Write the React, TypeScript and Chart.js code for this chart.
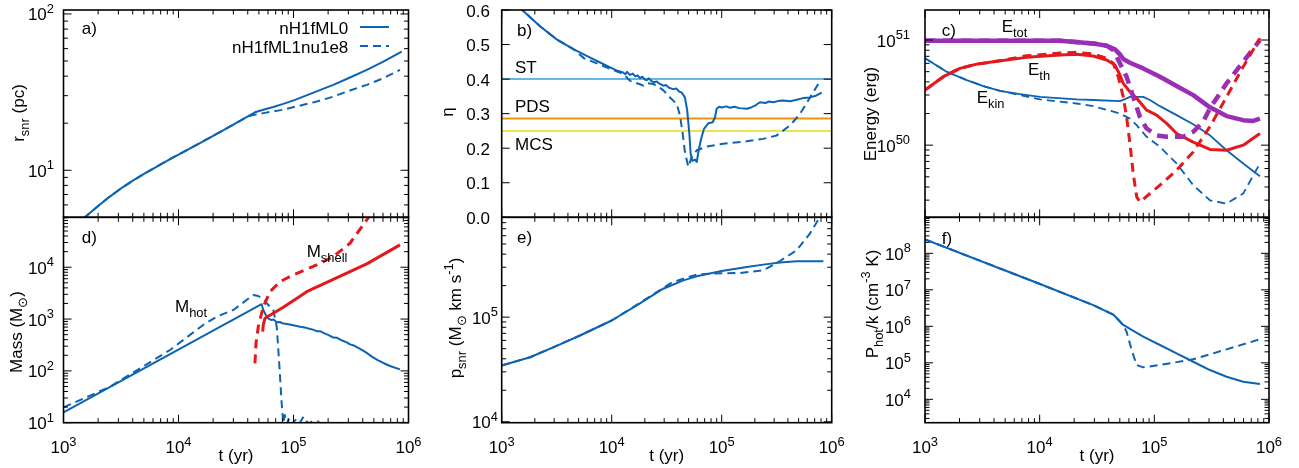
import { useEffect, useRef } from 'react';
import { Chart, registerables } from 'chart.js';

Chart.register(...registerables);

// ---------------- data ----------------
const timeMajor = [1e3, 1e4, 1e5, 1e6];
const minorMultipliers = [2, 3, 4, 5, 6, 7, 8, 9];
const runNames = ['nH1fML0', 'nH1fML1nu1e8'];

// (a) shell radius
const aTimeML0 = [1500, 1570, 2000, 2510, 3160, 3980, 5010, 6310, 7940, 10000, 15800, 25100, 39800, 46200, 54600, 66700, 81500, 103000, 149000, 222000, 310000, 434000, 604000, 873000];
const aRadiusML0 = [4.89, 5.07, 5.9, 6.76, 7.65, 8.55, 9.48, 10.45, 11.5, 12.6, 15.1, 18.2, 22.0, 23.5, 24.4, 25.4, 26.6, 28.2, 31.4, 35.2, 39.2, 43.9, 49.5, 57.4];
const aTimeNu = [1500, 1570, 2000, 2510, 3160, 3980, 5010, 6310, 7940, 10000, 15800, 25100, 39800, 44700, 54600, 81500, 106000, 159000, 222000, 310000, 434000, 604000, 843000];
const aRadiusNu = [4.89, 5.07, 5.9, 6.76, 7.65, 8.55, 9.48, 10.45, 11.5, 12.6, 15.1, 18.2, 22.0, 22.6, 23.2, 24.4, 25.6, 27.5, 29.6, 32.4, 35.2, 38.8, 43.9];

// (b) eta
const bTimeML0 = [1400, 1570, 2230, 3160, 4480, 5930, 7830, 10000, 11300, 12700, 13300, 13800, 14700, 15500, 16400, 17200, 18100, 19000, 19900, 20800, 21800, 23000, 24300, 25700, 27400, 29400, 31000, 33500, 36300, 38600, 41000, 43300, 46300, 48600, 50800, 52200, 54100, 57200, 59300, 61400, 64400, 69000, 75500, 82800, 86900, 90000, 95000, 100000, 110000, 119000, 130000, 145000, 169000, 185000, 201000, 215000, 223000, 250000, 270000, 294000, 330000, 363000, 420000, 481000, 550000, 635000, 720000, 811000];
const bEtaML0 = [0.611, 0.597, 0.553, 0.515, 0.487, 0.467, 0.448, 0.432, 0.424, 0.419, 0.414, 0.421, 0.412, 0.416, 0.408, 0.411, 0.403, 0.407, 0.399, 0.397, 0.402, 0.394, 0.391, 0.393, 0.386, 0.381, 0.383, 0.374, 0.371, 0.373, 0.364, 0.361, 0.347, 0.309, 0.242, 0.184, 0.163, 0.167, 0.160, 0.189, 0.222, 0.256, 0.272, 0.275, 0.289, 0.314, 0.320, 0.318, 0.321, 0.317, 0.320, 0.316, 0.314, 0.318, 0.323, 0.330, 0.333, 0.331, 0.335, 0.333, 0.337, 0.338, 0.336, 0.340, 0.345, 0.347, 0.352, 0.361];
const bTimeNu = [1400, 1570, 2230, 3160, 4480, 5620, 7830, 10000, 12700, 14700, 18100, 19400, 21000, 23900, 26500, 29400, 33900, 39000, 41800, 44200, 46300, 49700, 53300, 59300, 73100, 103500, 168700, 238800, 316200, 417800, 515200, 635300, 755100];
const bEtaNu = [0.611, 0.597, 0.553, 0.515, 0.487, 0.460, 0.442, 0.428, 0.415, 0.395, 0.385, 0.381, 0.388, 0.386, 0.378, 0.368, 0.347, 0.328, 0.294, 0.242, 0.189, 0.146, 0.174, 0.194, 0.205, 0.213, 0.220, 0.227, 0.237, 0.266, 0.299, 0.347, 0.386];
const regimeSpan = [1e3, 1e6];
const regimeNames = ['ST', 'PDS', 'MCS'];
const regimeEta = [0.4, 0.2857, 0.25];

// (c) energies
const cTimeTotML0 = [1000, 15030, 29310, 38370, 45390, 50120, 53580, 61240, 79980, 111900, 156300, 218300, 305500, 426600, 595700, 727800, 833700];
const cEtotML0 = [9.84e50, 9.84e50, 9.29e50, 8.83e50, 8.15e50, 7.31e50, 6.59e50, 6.08e50, 5.37e50, 4.48e50, 3.65e50, 2.99e50, 2.29e50, 1.89e50, 1.73e50, 1.70e50, 1.79e50];
const cTimeTotNu = [1000, 15030, 29310, 38370, 43850, 50120, 57280, 65460, 74820, 85700, 104700, 127900, 178600, 218300, 266700, 305500, 426600, 595700, 833700];
const cEtotNu = [9.84e50, 9.84e50, 9.29e50, 8.83e50, 8.04e50, 6.0e50, 4.48e50, 2.88e50, 1.86e50, 1.44e50, 1.24e50, 1.2e50, 1.2e50, 1.34e50, 1.67e50, 2.24e50, 3.87e50, 6.21e50, 1.0e51];
const cTimeThML0 = [1000, 1445, 2018, 2825, 3945, 7709, 15030, 21040, 29310, 38370, 45390, 50120, 53580, 61240, 70150, 85700, 104700, 127900, 156300, 218300, 305500, 426600, 595700, 833700];
const cEthML0 = [3.34e50, 4.48e50, 5.37e50, 5.9e50, 6.21e50, 6.84e50, 7.19e50, 7.31e50, 7.05e50, 6.46e50, 5.78e50, 4.65e50, 3.87e50, 3.22e50, 2.79e50, 2.15e50, 1.93e50, 1.61e50, 1.29e50, 1.07e50, 9.1e49, 8.95e49, 1.0e50, 1.29e50];
const cTimeThNu = [1000, 1445, 2018, 2825, 3945, 7709, 15030, 21040, 29310, 38370, 43850, 48420, 53580, 57280, 61240, 65460, 70150, 74820, 91620, 111900, 156300, 218300, 266700, 305500, 426600, 595700, 833700];
const cEthNu = [3.34e50, 4.48e50, 5.37e50, 5.9e50, 6.21e50, 7.08e50, 7.52e50, 7.64e50, 7.36e50, 6.7e50, 6.0e50, 4.48e50, 2.88e50, 1.86e50, 1.04e50, 5.37e49, 3.22e49, 2.88e49, 3.47e49, 4.16e49, 5.78e49, 8.63e49, 1.2e50, 1.5e50, 2.88e50, 5.57e50, 1.04e51];
const cTimeKinML0 = [1000, 1545, 2312, 3221, 4508, 6730, 10070, 21040, 29310, 50120, 55460, 61240, 79980, 91620, 111900, 156300, 218300, 305500, 426600, 595700, 833700];
const cEkinML0 = [6.7e50, 4.99e50, 4.16e50, 3.65e50, 3.29e50, 3.06e50, 2.88e50, 2.72e50, 2.69e50, 2.62e50, 2.74e50, 2.88e50, 2.88e50, 2.69e50, 2.35e50, 1.93e50, 1.58e50, 1.24e50, 8.95e49, 6.7e49, 5.07e49];
const cTimeKinNu = [1000, 1545, 2312, 3221, 4508, 6730, 10070, 21040, 29310, 50120, 61240, 70150, 85700, 111900, 156300, 218300, 305500, 426600, 595700, 833700];
const cEkinNu = [6.7e50, 4.99e50, 4.16e50, 3.65e50, 3.29e50, 2.99e50, 2.72e50, 2.49e50, 2.35e50, 2.0e50, 1.79e50, 1.55e50, 1.2e50, 9.64e49, 6.7e49, 4.16e49, 2.99e49, 2.78e49, 3.47e49, 6.7e49];

// (d) masses
const dTimeHotML0 = [1000, 52800, 54600, 58500, 61000, 64600, 67000, 71500, 76000, 80000, 87300, 95000, 104000, 114000, 125000, 137000, 148000, 159000, 172000, 186000, 200000, 222000, 240000, 265000, 290000, 310000, 340000, 375000, 400000, 433000, 480000, 540000, 604000, 700000, 843000];
const dMassHotML0 = [15.9, 1932, 1500, 1112, 1010, 961, 985, 870, 880, 830, 803, 775, 745, 713, 690, 650, 625, 585, 580, 530, 495, 440, 435, 385, 355, 325, 305, 270, 248, 222, 188, 162, 142, 123, 107];
const dTimeHotNu = [1000, 2540, 8430, 16400, 21500, 30000, 44700, 49400, 54600, 60400, 66700, 71500, 73800, 76400, 78900, 81500, 84000, 87000, 92000, 97000, 104000, 112000, 122000, 135000, 150000, 165000, 171000];
const dMassHotNu = [19.8, 49.5, 253, 769, 1112, 1500, 2917, 2790, 2410, 1871, 1500, 713, 253, 77.3, 23.7, 9.8, 14.1, 9.3, 12.2, 9.5, 11.3, 9.4, 13.0, 9.6, 11.0, 10.4, 8.0];
const dTimeShellML0 = [54000, 54600, 56500, 66700, 81500, 99500, 130300, 221800, 433500, 843300];
const dMassShellML0 = [571, 769, 1035, 1294, 1690, 2265, 3381, 5861, 11590, 26980];
const dTimeShellNu = [46200, 47200, 49400, 54600, 62500, 76400, 99500, 159200, 221800, 309700, 433500, 494300];
const dMassShellNu = [140, 341, 713, 1734, 3381, 5272, 7096, 11070, 16030, 29040, 81850, 127600];

// (e) momentum
const eTimeML0 = [1000, 1810, 2940, 5150, 10000, 16900, 29400, 44800, 59300, 100000, 169000, 239000, 339000, 481000, 840000];
const eMomML0 = [34500, 41400, 51500, 66800, 92900, 129400, 187000, 224800, 245400, 276100, 301500, 317700, 332400, 342200, 342200];
const eTimeNu = [1000, 1810, 2940, 5150, 10000, 16900, 29400, 35500, 44800, 59300, 79400, 147000, 239000, 339000, 481000, 635000, 783000, 832000];
const eMomNu = [34500, 41400, 51500, 66800, 92900, 131000, 190000, 215000, 233000, 255000, 261000, 264000, 280000, 344000, 436000, 631000, 910000, 1000000];

// (f) hot pressure
const fTimeML0 = [1000, 10070, 29310, 43850, 53580, 79980, 111900, 156300, 218300, 305500, 426600, 595700, 833700];
const fPresML0 = [2.42e8, 1.44e7, 3.82e6, 2.1e6, 1.09e6, 5.19e5, 3.08e5, 1.82e5, 1.07e5, 6.35e4, 4.16e4, 3.03e4, 2.62e4];
const fTimeNu = [1000, 10070, 29310, 43850, 53580, 57280, 63400, 70150, 79980, 111900, 218300, 426600, 833700];
const fPresNu = [2.42e8, 1.44e7, 3.82e6, 2.1e6, 1.09e6, 7.11e5, 2.24e5, 8.71e4, 7.53e4, 8.71e4, 1.25e5, 2.34e5, 4.41e5];

// ---------------- styling ----------------
const W = 1299;
const H = 468;
const FONT = '"Liberation Sans", Arial, Helvetica, sans-serif';
const FS = 17;
const BLUE = '#0d63b2';
const RED = '#e3191e';
const PURPLE = '#9a2fb6';
const C_ST = '#66b6e8';
const C_PDS = '#e8960c';
const C_MCS = '#f0e24a';
const DASH_B = [8, 5];
const DASH_R = [9, 6];
const DASH_P = [11, 7];
const MAJ = 8;
const MIN = 4.5;

type Seg = { t: string; k?: 'sub' | 'sup' };
const N = (t: string): Seg => ({ t });
const SUB = (t: string): Seg => ({ t, k: 'sub' });
const SUP = (t: string): Seg => ({ t, k: 'sup' });

function segSize(s: Seg, size: number) {
  return s.k ? size * 0.76 : size;
}
function richWidth(ctx: CanvasRenderingContext2D, segs: Seg[], size: number) {
  let w = 0;
  for (const s of segs) {
    ctx.font = `${segSize(s, size)}px ${FONT}`;
    w += ctx.measureText(s.t).width;
  }
  return w;
}
function drawRich(ctx: CanvasRenderingContext2D, segs: Seg[], x: number, y: number, size: number, align: 'left' | 'right' | 'center', rotate = false) {
  ctx.save();
  ctx.translate(x, y);
  if (rotate) ctx.rotate(-Math.PI / 2);
  const w = richWidth(ctx, segs, size);
  let cx = align === 'center' ? -w / 2 : align === 'right' ? -w : 0;
  ctx.textAlign = 'left';
  ctx.textBaseline = 'alphabetic';
  for (const s of segs) {
    const sz = segSize(s, size);
    const dy = s.k === 'sub' ? size * 0.3 : s.k === 'sup' ? -size * 0.45 : 0;
    ctx.font = `${sz}px ${FONT}`;
    ctx.fillText(s.t, cx, dy);
    cx += ctx.measureText(s.t).width;
  }
  ctx.restore();
}
const powLabel = (v: number): Seg[] => [N('10'), SUP(String(Math.round(Math.log10(v))))];
const fixedLabel = (v: number): Seg[] => [N(v.toFixed(1))];
const minorFor = (decades: number[]) => decades.flatMap((d) => minorMultipliers.map((m) => d * m));

const pts = (xs: number[], ys: number[]) => xs.map((x, i) => ({ x, y: ys[i] }));
const line = (xs: number[], ys: number[], color: string, width: number, dash: number[] = []) => ({
  data: pts(xs, ys),
  borderColor: color,
  borderWidth: width,
  borderDash: dash,
  pointRadius: 0,
  fill: false,
  tension: 0,
  borderJoinStyle: 'round',
});

interface Panel {
  box: [number, number, number, number];
  yType: 'logarithmic' | 'linear';
  yMin: number;
  yMax: number;
  yMajor: number[];
  yMinor: number[];
  yFmt: (v: number) => Seg[];
  yLabelRight: number;
  yTitle: Seg[];
  yTitleAt: [number, number];
  xLabels: boolean;
  texts: { segs: Seg[]; x: number; y: number }[];
  legend?: boolean;
  datasets: any[];
}

const panels: Panel[] = [
  {
    box: [63.5, 10, 408.5, 217.3], yType: 'logarithmic', yMin: 5, yMax: 106,
    yMajor: [10, 100], yMinor: minorFor([1, 10]), yFmt: powLabel, yLabelRight: 54,
    yTitle: [N('r'), SUB('snr'), N(' (pc)')], yTitleAt: [17.5, 113], xLabels: false,
    texts: [{ segs: [N('a)')], x: 81.7, y: 34.4 }], legend: true,
    datasets: [
      line(aTimeML0, aRadiusML0, BLUE, 2),
      line(aTimeNu, aRadiusNu, BLUE, 2, DASH_B),
    ],
  },
  {
    box: [501.7, 10, 831.7, 217.3], yType: 'linear', yMin: 0, yMax: 0.6,
    yMajor: [0, 0.1, 0.2, 0.3, 0.4, 0.5, 0.6], yMinor: [], yFmt: fixedLabel, yLabelRight: 490,
    yTitle: [N('η')], yTitleAt: [447, 112], xLabels: false,
    texts: [
      { segs: [N('b)')], x: 517, y: 36 },
      { segs: [N(regimeNames[0])], x: 515, y: 73.3 },
      { segs: [N(regimeNames[1])], x: 515, y: 111.7 },
      { segs: [N(regimeNames[2])], x: 515, y: 150 },
    ],
    datasets: [
      line(bTimeML0, bEtaML0, BLUE, 2),
      line(bTimeNu, bEtaNu, BLUE, 2, DASH_B),
      line(regimeSpan, regimeSpan.map(() => regimeEta[0]), C_ST, 2),
      line(regimeSpan, regimeSpan.map(() => regimeEta[1]), C_PDS, 2),
      line(regimeSpan, regimeSpan.map(() => regimeEta[2]), C_MCS, 2),
    ],
  },
  {
    box: [925, 10, 1269, 217.3], yType: 'logarithmic', yMin: 2.06e49, yMax: 1.93e51,
    yMajor: [1e50, 1e51], yMinor: minorFor([1e49, 1e50, 1e51]), yFmt: powLabel, yLabelRight: 910,
    yTitle: [N('Energy (erg)')], yTitleAt: [870, 114], xLabels: false,
    texts: [
      { segs: [N('c)')], x: 941.7, y: 36 },
      { segs: [N('E'), SUB('tot')], x: 1001.7, y: 31.7 },
      { segs: [N('E'), SUB('th')], x: 1028, y: 75 },
      { segs: [N('E'), SUB('kin')], x: 976.7, y: 103.3 },
    ],
    datasets: [
      line(cTimeThNu, cEthNu, RED, 3, DASH_R),
      line(cTimeTotNu, cEtotNu, PURPLE, 4.5, DASH_P),
      line(cTimeTotML0, cEtotML0, PURPLE, 4.5),
      line(cTimeThML0, cEthML0, RED, 3),
      line(cTimeKinML0, cEkinML0, BLUE, 1.8),
      line(cTimeKinNu, cEkinNu, BLUE, 1.8, DASH_B),
    ],
  },
  {
    box: [63.5, 217.3, 408.5, 422.7], yType: 'logarithmic', yMin: 10, yMax: 9.2e4,
    yMajor: [10, 100, 1e3, 1e4], yMinor: minorFor([10, 100, 1e3, 1e4]), yFmt: powLabel, yLabelRight: 54,
    yTitle: [N('Mass (M'), SUB('⊙'), N(')')], yTitleAt: [16, 332], xLabels: true,
    texts: [
      { segs: [N('d)')], x: 81.7, y: 242.7 },
      { segs: [N('M'), SUB('hot')], x: 175, y: 311.7 },
      { segs: [N('M'), SUB('shell')], x: 306.7, y: 256.7 },
    ],
    datasets: [
      line(dTimeShellML0, dMassShellML0, RED, 3),
      line(dTimeShellNu, dMassShellNu, RED, 3, DASH_R),
      line(dTimeHotML0, dMassHotML0, BLUE, 2),
      line(dTimeHotNu, dMassHotNu, BLUE, 2, DASH_B),
    ],
  },
  {
    box: [501.7, 217.3, 831.7, 422.7], yType: 'logarithmic', yMin: 9.8e3, yMax: 9e5,
    yMajor: [1e4, 1e5], yMinor: minorFor([1e4, 1e5]), yFmt: powLabel, yLabelRight: 498,
    yTitle: [N('p'), SUB('snr'), N(' (M'), SUB('⊙'), N(' km s'), SUP('-1'), N(')')], yTitleAt: [455, 318], xLabels: true,
    texts: [{ segs: [N('e)')], x: 517, y: 242.7 }],
    datasets: [
      line(eTimeML0, eMomML0, BLUE, 2),
      line(eTimeNu, eMomNu, BLUE, 2, DASH_B),
    ],
  },
  {
    box: [925, 217.3, 1269, 422.7], yType: 'logarithmic', yMin: 2.29e3, yMax: 9.7e8,
    yMajor: [1e4, 1e5, 1e6, 1e7, 1e8], yMinor: minorFor([1e3, 1e4, 1e5, 1e6, 1e7, 1e8]), yFmt: powLabel, yLabelRight: 911,
    yTitle: [N('P'), SUB('hot'), N('/k (cm'), SUP('-3'), N(' K)')], yTitleAt: [872, 304], xLabels: true,
    texts: [{ segs: [N('f)')], x: 941.7, y: 244 }],
    datasets: [
      line(fTimeML0, fPresML0, BLUE, 2),
      line(fTimeNu, fPresNu, BLUE, 2, DASH_B),
    ],
  },
];

function makeDecor(p: Panel) {
  return {
    id: 'decor',
    afterDraw(chart: any) {
      const ctx = chart.ctx as CanvasRenderingContext2D;
      const a = chart.chartArea;
      const xs = chart.scales.x;
      const ys = chart.scales.y;
      ctx.save();
      ctx.strokeStyle = '#000';
      ctx.lineWidth = 1;
      ctx.beginPath();
      const vTick = (v: number, len: number) => {
        const px = xs.getPixelForValue(v);
        ctx.moveTo(px, a.bottom);
        ctx.lineTo(px, a.bottom - len);
        ctx.moveTo(px, a.top);
        ctx.lineTo(px, a.top + len);
      };
      const hTick = (v: number, len: number) => {
        if (v < p.yMin * 0.999 || v > p.yMax * 1.001) return;
        const py = ys.getPixelForValue(v);
        ctx.moveTo(a.left, py);
        ctx.lineTo(a.left + len, py);
        ctx.moveTo(a.right, py);
        ctx.lineTo(a.right - len, py);
      };
      timeMajor.forEach((v) => vTick(v, MAJ));
      minorFor([1e3, 1e4, 1e5]).forEach((v) => vTick(v, MIN));
      p.yMajor.forEach((v) => hTick(v, MAJ));
      p.yMinor.forEach((v) => hTick(v, MIN));
      ctx.stroke();
      ctx.lineWidth = 1.6;
      ctx.strokeRect(a.left, a.top, a.right - a.left, a.bottom - a.top);

      ctx.fillStyle = '#000';
      p.yMajor.forEach((v) => {
        if (v < p.yMin * 0.999 || v > p.yMax * 1.001) return;
        const py = ys.getPixelForValue(v);
        drawRich(ctx, p.yFmt(v), p.yLabelRight, py + 6.5, FS, 'right');
      });
      if (p.xLabels) {
        timeMajor.forEach((v) => drawRich(ctx, powLabel(v), xs.getPixelForValue(v), 453.3, FS, 'center'));
        drawRich(ctx, [N('t (yr)')], (a.left + a.right) / 2, 461, FS, 'center');
      }
      drawRich(ctx, p.yTitle, p.yTitleAt[0] + 6, p.yTitleAt[1], FS, 'center', true);
      p.texts.forEach((t) => drawRich(ctx, t.segs, t.x, t.y, FS, 'left'));
      if (p.legend) {
        const rows = [
          { name: runNames[0], y: 27, dash: [] as number[] },
          { name: runNames[1], y: 46, dash: DASH_B },
        ];
        rows.forEach((r) => {
          drawRich(ctx, [N(r.name)], 348.3, r.y + 6.7, FS, 'right');
          ctx.save();
          ctx.strokeStyle = BLUE;
          ctx.lineWidth = 2;
          ctx.setLineDash(r.dash);
          ctx.beginPath();
          ctx.moveTo(360, r.y);
          ctx.lineTo(389, r.y);
          ctx.stroke();
          ctx.restore();
        });
      }
      ctx.restore();
    },
  };
}

function PanelChart({ p }: { p: Panel }) {
  const ref = useRef<HTMLCanvasElement | null>(null);
  useEffect(() => {
    if (!ref.current) return;
    const [l, t, r, b] = p.box;
    const chart = new Chart(ref.current, {
      type: 'line',
      data: { datasets: p.datasets },
      options: {
        animation: false,
        responsive: false,
        maintainAspectRatio: false,
        devicePixelRatio: 1,
        events: [],
        layout: { padding: { left: l, top: t, right: W - r, bottom: H - b } },
        plugins: { legend: { display: false }, tooltip: { enabled: false }, title: { display: false } },
        scales: {
          x: { type: 'logarithmic', min: 1e3, max: 1e6, display: false },
          y: { type: p.yType, min: p.yMin, max: p.yMax, display: false },
        },
      } as any,
      plugins: [makeDecor(p)],
    });
    return () => chart.destroy();
  }, [p]);
  return (
    <canvas
      ref={ref}
      width={W}
      height={H}
      style={{ position: 'absolute', left: 0, top: 0, width: W, height: H, pointerEvents: 'none' }}
    />
  );
}

export default function App() {
  return (
    <div style={{ position: 'absolute', left: 0, top: 0, width: W, height: H, background: '#fff' }}>
      {panels.map((p, i) => (
        <PanelChart key={i} p={p} />
      ))}
    </div>
  );
}
